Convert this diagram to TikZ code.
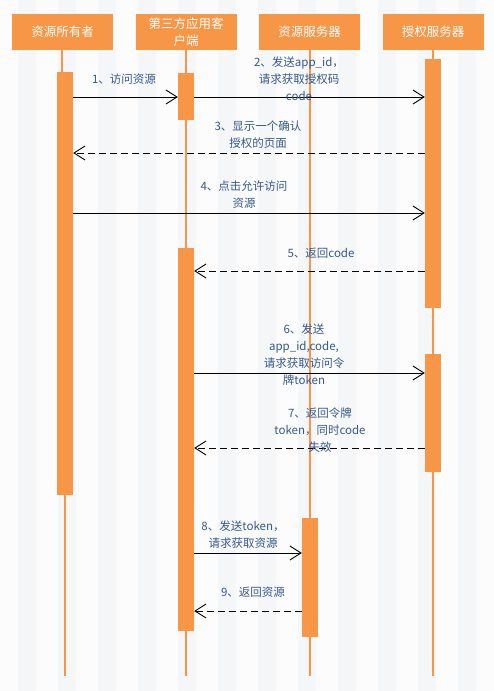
\documentclass[tikz,border=0pt]{standalone}
\usepackage{fontspec}
\setmainfont{Noto Sans CJK SC}
\usetikzlibrary{arrows.meta}
\definecolor{org}{HTML}{F79646}
\definecolor{lbl}{HTML}{35598F}
\definecolor{stripe}{HTML}{F4F6F8}
\definecolor{bgc}{HTML}{FCFCFC}
\tikzset{
  head/.style={fill=org, draw=none, text=white, minimum width=101pt, minimum height=36pt, inner sep=0pt, align=center, font=\fontsize{12.5}{16.5}\selectfont},
  actbar/.style={fill=org, draw=none, minimum width=16pt, inner sep=0pt},
  life/.style={draw=org, line width=1.1pt},
  msg/.style={draw=black, line width=0.9pt, -{Straight Barb[length=11pt,width=14pt,line width=0.9pt]}},
  ret/.style={msg, dash pattern=on 7pt off 4pt},
  lab/.style={text=lbl, align=center, inner sep=0pt, font=\fontsize{11.5}{17}\selectfont}
}
\begin{document}
\begin{tikzpicture}[x=1pt,y=-1pt]
\useasboundingbox (0,0) rectangle (494,691);
\fill[bgc] (0,0) rectangle (494,691);
\foreach \i in {0,...,11} \fill[stripe] (18+40*\i,0) rectangle (36+40*\i,691);

% headers
\node[head] (h1) at (62.5,32) {资源所有者};
\node[head] (h2) at (186,32) {第三方应用客\\户端};
\node[head] (h3) at (309.5,32) {资源服务器};
\node[head] (h4) at (433,32) {授权服务器};

% lifeline end points
\coordinate (e1) at (65,676);
\coordinate (e2) at (186,676);
\coordinate (e3) at (310,676);
\coordinate (e4) at (433,676);

% lifelines (drawn before bars)
\draw[life] (h1.south -| 62,0) -- (62,72);
\draw[life] (65,495) -- (e1);
\draw[life] (h2.south) -- (e2);
\draw[life] (h3.south -| 310,0) -- (e3);
\draw[life] (h4.south) -- (e4);

% activation bars
\node[actbar, minimum height=423pt] (a1) at (65,283.5) {};
\node[actbar, minimum height=47pt] (a2) at (186,96.5) {};
\node[actbar, minimum height=383pt] (b2) at (186,439.5) {};
\node[actbar, minimum height=249pt] (a4) at (433,183.5) {};
\node[actbar, minimum height=118pt] (b4) at (433,413) {};
\node[actbar, minimum height=119pt] (a3) at (310,577.5) {};

% messages
\draw[msg] (a1.east |- 0,97) -- (a2.west |- 0,97);
\draw[msg] (a2.east |- 0,97) -- (a4.west |- 0,97);
\draw[ret] (a4.west |- 0,153) -- (a1.east |- 0,153);
\draw[msg] (a1.east |- 0,213) -- (a4.west |- 0,213);
\draw[ret] (a4.west |- 0,271) -- (b2.east |- 0,271);
\draw[msg] (b2.east |- 0,373) -- (b4.west |- 0,373);
\draw[ret] (b4.west |- 0,448) -- (b2.east |- 0,448);
\draw[msg] (b2.east |- 0,553) -- (a3.west |- 0,553);
\draw[ret] (a3.west |- 0,611) -- (b2.east |- 0,611);

% labels
\node[lab] (l1) at (124,79) {1、访问资源};
\node[lab] (l2) at (299,79) {2、发送app\_id，\\请求获取授权码\\code};
\node[lab] (l3) at (258,135) {3、显示一个确认\\授权的页面};
\node[lab] (l4) at (244,195) {4、点击允许访问\\资源};
\node[lab] (l5) at (321,253) {5、返回code};
\node[lab] (l6) at (304,355) {6、发送\\app\_id,code,\\请求获取访问令\\牌token};
\node[lab] (l7) at (320,430) {7、返回令牌\\token，同时code\\失效};
\node[lab] (l8) at (243,535) {8、发送token，\\请求获取资源};
\node[lab] (l9) at (253,592) {9、返回资源};
\end{tikzpicture}
\end{document}
